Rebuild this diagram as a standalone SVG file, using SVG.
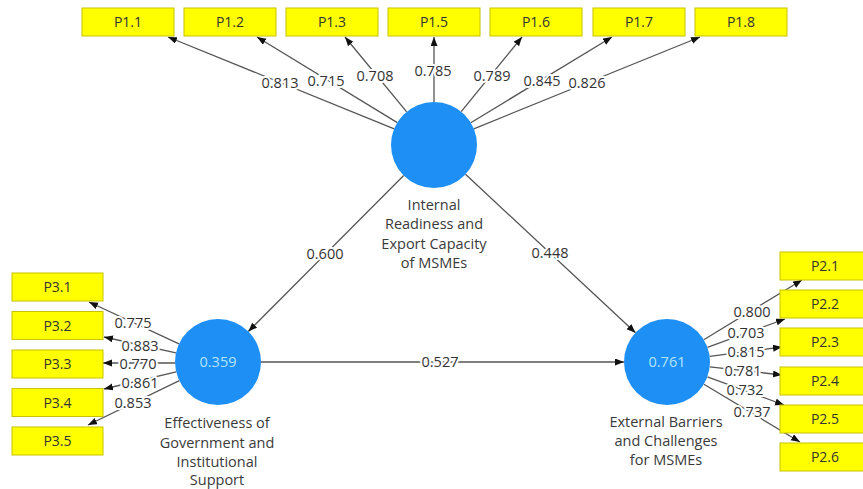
<svg xmlns="http://www.w3.org/2000/svg" width="863" height="489" viewBox="0 0 863 489">
<style>
.box{fill:#ffff00;stroke:#c8c200;stroke-width:1}
.bt{font-family:"Open Sans","Noto Sans",sans-serif;font-size:14px;fill:#333;text-anchor:middle}
.lv{fill:#1e8ff5}
.lt{font-family:"Open Sans","Noto Sans",sans-serif;font-size:14.5px;fill:#3a3a3a;text-anchor:middle}
.in{font-family:"Open Sans","Noto Sans",sans-serif;font-size:14.5px;fill:#b3e5ff;text-anchor:middle}
.ln{stroke:#555;stroke-width:1.3;fill:none;marker-end:url(#ah)}
.w{font-family:"Open Sans","Noto Sans",sans-serif;font-size:14.5px;fill:#333;text-anchor:middle;stroke:#fff;stroke-width:4;paint-order:stroke;stroke-linejoin:round}
</style>
<defs>
<marker id="ah" markerUnits="userSpaceOnUse" markerWidth="10" markerHeight="8" refX="9" refY="3.5" orient="auto">
<path d="M0,0 L9,3.5 L0,7 z" fill="#111"/>
</marker>
</defs>
<rect width="863" height="489" fill="#fff"/>
<g id="connectors">
<line class="ln" x1="394.2" y1="128.8" x2="168" y2="37"/>
<line class="ln" x1="397.3" y1="122.6" x2="257" y2="37"/>
<line class="ln" x1="406.7" y1="111.8" x2="345" y2="37"/>
<line class="ln" x1="434" y1="102" x2="434" y2="37"/>
<line class="ln" x1="461.2" y1="111.7" x2="522" y2="37"/>
<line class="ln" x1="470.8" y1="122.7" x2="612" y2="37"/>
<line class="ln" x1="473.8" y1="128.8" x2="700" y2="37"/>
<line class="ln" x1="179" y1="343.9" x2="89" y2="302"/>
<line class="ln" x1="176" y1="352.8" x2="104" y2="337"/>
<line class="ln" x1="175" y1="363" x2="103" y2="363"/>
<line class="ln" x1="176.2" y1="371.9" x2="104" y2="389"/>
<line class="ln" x1="179.3" y1="380.7" x2="88" y2="425"/>
<line class="ln" x1="703.8" y1="339.7" x2="802" y2="280"/>
<line class="ln" x1="707.4" y1="347.3" x2="785" y2="319"/>
<line class="ln" x1="709.6" y1="356.4" x2="782" y2="347"/>
<line class="ln" x1="709.7" y1="366.8" x2="782" y2="375"/>
<line class="ln" x1="707.4" y1="376.8" x2="784" y2="405"/>
<line class="ln" x1="703.9" y1="384.2" x2="800" y2="442"/>
<line class="ln" x1="403.7" y1="175.5" x2="248.3" y2="331.5"/>
<line class="ln" x1="465.5" y1="174.3" x2="635.5" y2="332.7"/>
<line class="ln" x1="261" y1="362" x2="624" y2="362"/>
<g id="weights">
<text class="w" x="280" y="88">0.813</text>
<text class="w" x="326" y="86">0.715</text>
<text class="w" x="375" y="81">0.708</text>
<text class="w" x="433" y="76">0.785</text>
<text class="w" x="492" y="81">0.789</text>
<text class="w" x="542" y="86">0.845</text>
<text class="w" x="587" y="88">0.826</text>
<text class="w" x="133" y="328">0.775</text>
<text class="w" x="140" y="351">0.883</text>
<text class="w" x="138" y="369">0.770</text>
<text class="w" x="140" y="388">0.861</text>
<text class="w" x="133" y="408">0.853</text>
<text class="w" x="752" y="317">0.800</text>
<text class="w" x="746" y="338">0.703</text>
<text class="w" x="746" y="357">0.815</text>
<text class="w" x="743" y="376">0.781</text>
<text class="w" x="745" y="395">0.732</text>
<text class="w" x="752" y="417">0.737</text>
<text class="w" x="325" y="259">0.600</text>
<text class="w" x="550" y="258">0.448</text>
<text class="w" x="440" y="367">0.527</text>
</g>
</g>
<g id="P1.1"><rect class="box" x="82" y="8" width="92" height="28"/><text class="bt" x="128" y="27">P1.1</text></g>
<g id="P1.2"><rect class="box" x="184" y="8" width="92" height="28"/><text class="bt" x="230" y="27">P1.2</text></g>
<g id="P1.3"><rect class="box" x="286" y="8" width="92" height="28"/><text class="bt" x="332" y="27">P1.3</text></g>
<g id="P1.5"><rect class="box" x="388" y="8" width="92" height="28"/><text class="bt" x="434" y="27">P1.5</text></g>
<g id="P1.6"><rect class="box" x="490" y="8" width="92" height="28"/><text class="bt" x="536" y="27">P1.6</text></g>
<g id="P1.7"><rect class="box" x="593" y="8" width="92" height="28"/><text class="bt" x="639" y="27">P1.7</text></g>
<g id="P1.8"><rect class="box" x="695" y="8" width="92" height="28"/><text class="bt" x="741" y="27">P1.8</text></g>
<g id="P3.1"><rect class="box" x="12" y="273" width="91" height="28"/><text class="bt" x="57.5" y="292">P3.1</text></g>
<g id="P3.2"><rect class="box" x="12" y="311.5" width="91" height="28"/><text class="bt" x="57.5" y="330.5">P3.2</text></g>
<g id="P3.3"><rect class="box" x="12" y="350" width="91" height="28"/><text class="bt" x="57.5" y="369">P3.3</text></g>
<g id="P3.4"><rect class="box" x="12" y="388.5" width="91" height="28"/><text class="bt" x="57.5" y="407.5">P3.4</text></g>
<g id="P3.5"><rect class="box" x="12" y="427" width="91" height="28"/><text class="bt" x="57.5" y="446">P3.5</text></g>
<g id="P2.1"><rect class="box" x="780" y="252" width="92" height="28"/><text class="bt" x="825" y="271">P2.1</text></g>
<g id="P2.2"><rect class="box" x="780" y="290" width="92" height="28"/><text class="bt" x="825" y="309">P2.2</text></g>
<g id="P2.3"><rect class="box" x="780" y="328" width="92" height="28"/><text class="bt" x="825" y="347">P2.3</text></g>
<g id="P2.4"><rect class="box" x="780" y="367" width="92" height="28"/><text class="bt" x="825" y="386">P2.4</text></g>
<g id="P2.5"><rect class="box" x="780" y="405" width="92" height="28"/><text class="bt" x="825" y="424">P2.5</text></g>
<g id="P2.6"><rect class="box" x="780" y="443" width="92" height="28"/><text class="bt" x="825" y="462">P2.6</text></g>
<g id="internal">
<circle class="lv" cx="434" cy="145" r="43"/>
<text class="lt" x="434" y="210">Internal</text>
<text class="lt" x="434" y="229">Readiness and</text>
<text class="lt" x="434" y="249">Export Capacity</text>
<text class="lt" x="434" y="268">of MSMEs</text>
</g>
<g id="government">
<circle class="lv" cx="218" cy="362" r="43"/>
<text class="in" x="218" y="367">0.359</text>
<text class="lt" x="217" y="428">Effectiveness of</text>
<text class="lt" x="217" y="448">Government and</text>
<text class="lt" x="217" y="467">Institutional</text>
<text class="lt" x="217" y="485">Support</text>
</g>
<g id="external">
<circle class="lv" cx="667" cy="362" r="43"/>
<text class="in" x="667" y="367">0.761</text>
<text class="lt" x="666" y="427">External Barriers</text>
<text class="lt" x="666" y="446">and Challenges</text>
<text class="lt" x="666" y="465">for MSMEs</text>
</g>
</svg>
